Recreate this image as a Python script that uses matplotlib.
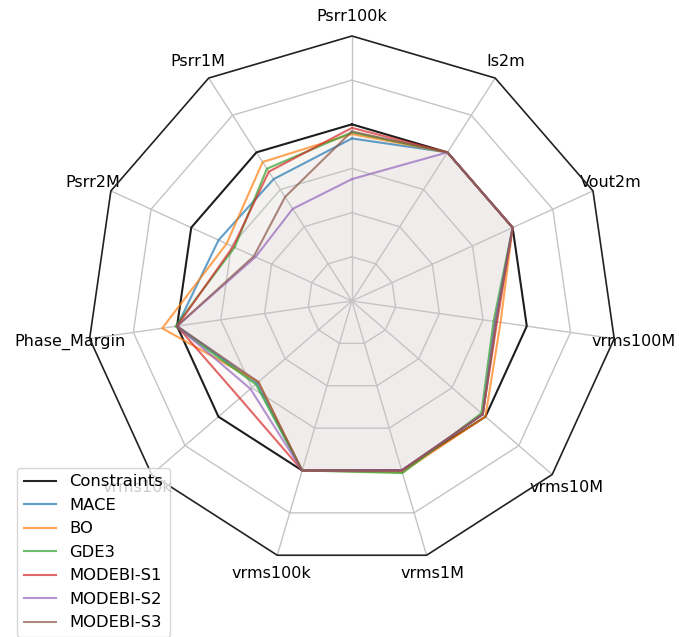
import numpy as np
import matplotlib
matplotlib.use('Agg')
import matplotlib.pyplot as plt
from matplotlib.patches import RegularPolygon
from matplotlib.path import Path
from matplotlib.projections.polar import PolarAxes
from matplotlib.projections import register_projection
from matplotlib.spines import Spine
from matplotlib.transforms import Affine2D

# ---------------- data ----------------
labels = ['Psrr100k', 'Psrr1M', 'Psrr2M', 'Phase_Margin', 'vrms10k',
          'vrms100k', 'vrms1M', 'vrms10M', 'vrms100M', 'Vout2m', 'Is2m']
series_names = ['Constraints', 'MACE', 'BO', 'GDE3', 'MODEBI-S1', 'MODEBI-S2', 'MODEBI-S3']
constraints = [1.0, 1.0, 1.0, 1.0, 1.0, 1.0, 1.0, 1.0, 1.0, 1.0, 1.0]
mace        = [0.92, 0.82, 0.83, 1.00, 0.71, 1.00, 1.00, 0.98, 0.82, 1.00, 1.00]
bo          = [0.945, 0.935, 0.78, 1.085, 0.70, 1.00, 1.01, 1.00, 0.85, 1.00, 1.00]
gde3        = [0.955, 0.89, 0.73, 1.01, 0.72, 1.00, 1.015, 0.97, 0.81, 1.00, 1.00]
modebi_s1   = [0.98, 0.87, 0.74, 1.00, 0.84, 1.00, 1.00, 0.98, 0.83, 1.00, 1.00]
modebi_s2   = [0.69, 0.62, 0.60, 1.00, 0.76, 1.00, 1.00, 0.98, 0.82, 1.00, 1.00]
modebi_s3   = [0.96, 0.70, 0.61, 1.00, 0.70, 1.00, 1.00, 0.98, 0.825, 1.00, 1.00]
series_values = [constraints, mace, bo, gde3, modebi_s1, modebi_s2, modebi_s3]
series_colors = ['black', 'tab:blue', 'tab:orange', 'tab:green', 'tab:red', 'tab:purple', 'tab:brown']
r_max = 1.5
r_grid = [0.25, 0.5, 0.75, 1.0, 1.25]

N = len(labels)


def radar_factory(num_vars):
    theta = np.linspace(0, 2 * np.pi, num_vars, endpoint=False)

    class RadarTransform(PolarAxes.PolarTransform):
        def transform_path_non_affine(self, path):
            if path._interpolation_steps > 1:
                path = path.interpolated(num_vars)
            return Path(self.transform(path.vertices), path.codes)

    class RadarAxes(PolarAxes):
        name = 'radar'
        PolarTransform = RadarTransform

        def __init__(self, *args, **kwargs):
            super().__init__(*args, **kwargs)
            self.set_theta_zero_location('N')

        def fill(self, *args, closed=True, **kwargs):
            return super().fill(closed=closed, *args, **kwargs)

        def plot(self, *args, **kwargs):
            lines = super().plot(*args, **kwargs)
            for line in lines:
                self._close_line(line)
            return lines

        def _close_line(self, line):
            x, y = line.get_data()
            if x[0] != x[-1]:
                x = np.append(x, x[0])
                y = np.append(y, y[0])
                line.set_data(x, y)

        def set_varlabels(self, labels, **kw):
            self.set_thetagrids(np.degrees(theta), labels, **kw)

        def _gen_axes_patch(self):
            return RegularPolygon((0.5, 0.5), num_vars, radius=.5, edgecolor="k")

        def _gen_axes_spines(self):
            spine = Spine(axes=self, spine_type='circle',
                          path=Path.unit_regular_polygon(num_vars))
            spine.set_transform(Affine2D().scale(.5).translate(.5, .5) + self.transAxes)
            return {'polar': spine}

    register_projection(RadarAxes)
    return theta


theta = radar_factory(N)

fig = plt.figure(figsize=(6.79, 6.37), dpi=100)
ax = fig.add_axes([0.128, 0.1115, 0.7806, 0.832], projection='radar')

for name, vals, col in zip(series_names, series_values, series_colors):
    if name == 'Constraints':
        ax.plot(theta, vals, color=col, lw=1.5, alpha=0.85, label=name)
    else:
        ax.plot(theta, vals, color=col, lw=1.5, alpha=0.7, label=name)
        ax.fill(theta, vals, facecolor=col, alpha=0.02)

ax.set_ylim(0, r_max)
ax.set_rgrids(r_grid, labels=[])
ax.set_varlabels(labels, fontsize=11.5)
ax.grid(color='#c4c4c4', lw=1.0)
ax.spines['polar'].set_color('#222222')
ax.spines['polar'].set_linewidth(1.2)

leg = ax.legend(loc='lower left', bbox_to_anchor=(0.025, 0.0),
                bbox_transform=fig.transFigure, borderaxespad=0,
                fontsize=11.8, labelspacing=0.52)

fig.savefig('out.png', dpi=100)
